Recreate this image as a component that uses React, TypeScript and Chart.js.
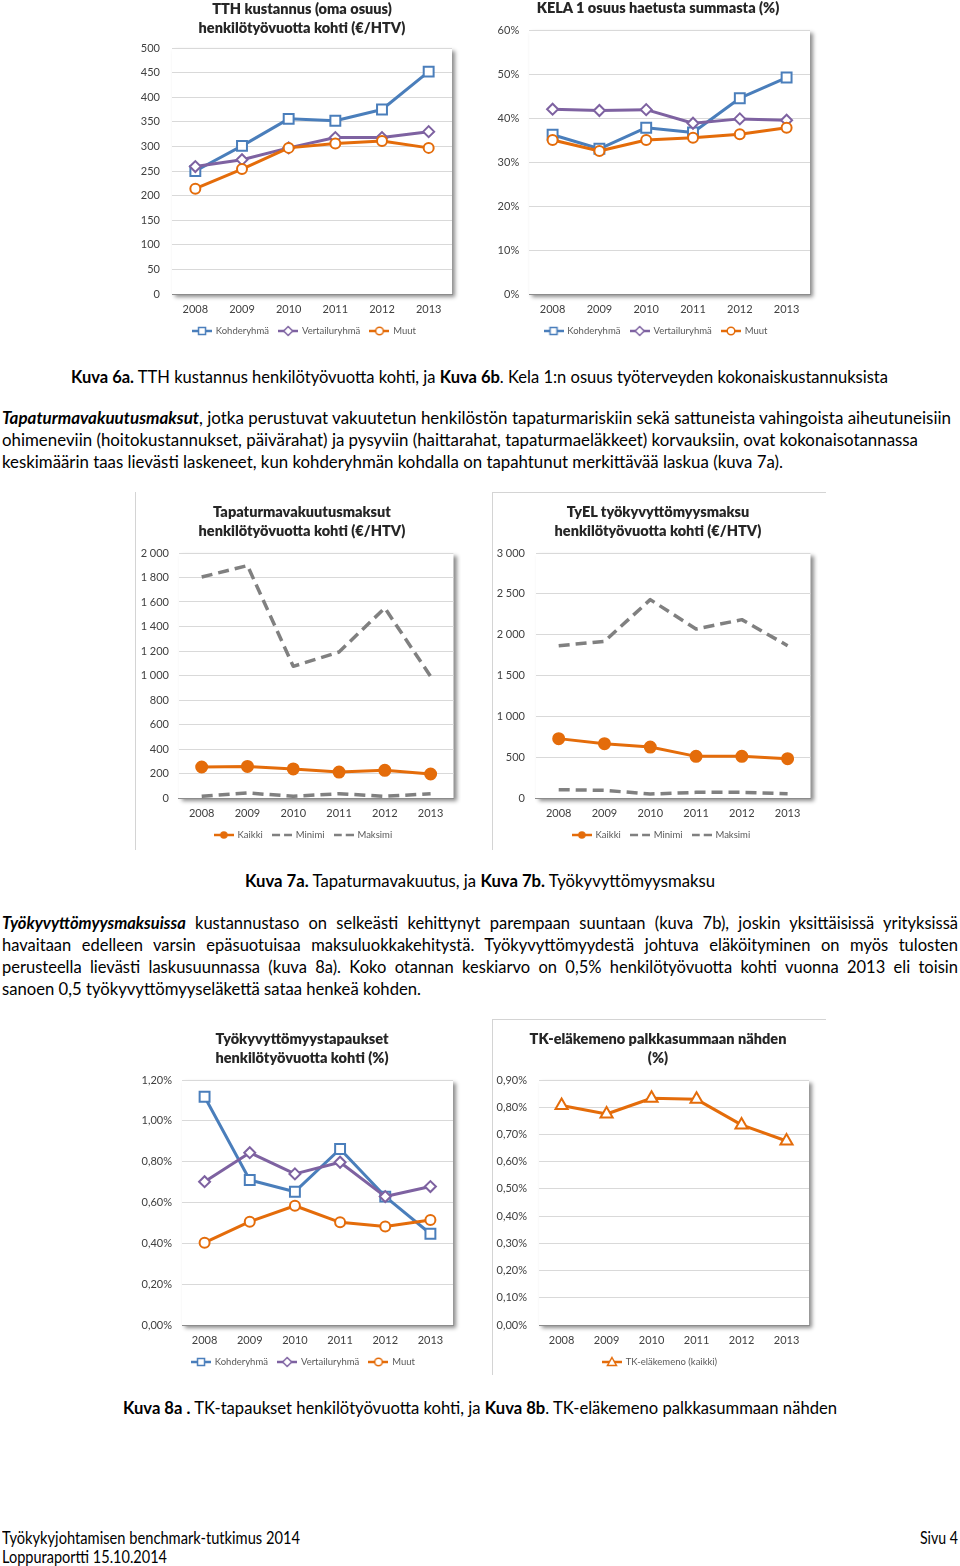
import React, { useEffect, useLayoutEffect, useRef } from "react";
import { Chart, registerables } from "chart.js";

Chart.register(...registerables);

// ---------- DATA ----------
const YEARS = ["2008", "2009", "2010", "2011", "2012", "2013"];

// Kuva 6a: TTH kustannus (€/HTV)
const TTH_KOHDE = [250, 301, 356, 352, 375, 452];
const TTH_VERTAILU = [259, 273, 297, 318, 318, 330];
const TTH_MUUT = [214, 254, 297, 306, 311, 297];

// Kuva 6b: KELA 1 osuus (%)
const KELA_KOHDE = [36.2, 33.0, 37.8, 36.7, 44.5, 49.2];
const KELA_VERTAILU = [42.0, 41.7, 41.9, 38.8, 39.8, 39.5];
const KELA_MUUT = [35.0, 32.5, 35.0, 35.5, 36.3, 37.8];

// Kuva 7a: Tapaturmavakuutusmaksut (€/HTV)
const TAPA_KAIKKI = [253, 258, 237, 212, 226, 196];
const TAPA_MINIMI = [14, 41, 14, 35, 14, 35];
const TAPA_MAKSIMI = [1804, 1897, 1075, 1192, 1551, 993];

// Kuva 7b: TyEL työkyvyttömyysmaksu (€/HTV)
const TYEL_KAIKKI = [727, 665, 624, 510, 510, 482];
const TYEL_MINIMI = [102, 94, 49, 69, 69, 53];
const TYEL_MAKSIMI = [1865, 1918, 2429, 2069, 2184, 1865];

// Kuva 8a: Työkyvyttömyystapaukset (%)
const TK_KOHDE = [1.118, 0.71, 0.653, 0.862, 0.629, 0.447];
const TK_VERTAILU = [0.702, 0.844, 0.74, 0.797, 0.629, 0.678];
const TK_MUUT = [0.403, 0.506, 0.584, 0.503, 0.482, 0.514];

// Kuva 8b: TK-eläkemeno (%)
const TKE_KAIKKI = [0.806, 0.775, 0.833, 0.829, 0.735, 0.676];

// ---------- STYLE ----------
const FONT = "Lato, 'Open Sans', sans-serif";
const TICK_COLOR = "#404040";
const TITLE_COLOR = "#262626";
const LEGEND_COLOR = "#595959";
const BLUE = "#4a7ebb";
const PURPLE = "#7e62a1";
const ORANGE = "#e46c0a";
const GRAY = "#808080";

const X_AXIS_H = 22;
const LEGEND_FONT = 9.5;
const LEGEND_PAD = 10.25;
const LEGEND_H = LEGEND_FONT + LEGEND_PAD + 10;
const TOP_PAD = 40;

type Marker = "rect" | "rectRot" | "circle" | "triangle" | false;
type Series = {
  label: string;
  data: number[];
  color: string;
  dash?: number[];
  marker: Marker;
  filled?: boolean;
  radius?: number;
  width?: number;
  order: number;
};
type Spec = {
  boxLeft: number;
  plotLeft: number;
  plotRight: number;
  plotTop: number;
  plotBottom: number;
  legendCx: number;
  yPad: number;
  titleCx: number;
  titleY: number;
  title: string[];
  min: number;
  max: number;
  step: number;
  fmt: (v: number) => string;
  series: Series[];
};

const fmtPlain = (v: number) => String(v);
const fmtPct0 = (v: number) => Math.round(v) + "%";
const fmtThousands = (v: number) =>
  v >= 1000 ? Math.floor(v / 1000) + " " + String(Math.round(v % 1000)).padStart(3, "0") : String(Math.round(v));
const fmtPct2 = (v: number) => v.toFixed(2).replace(".", ",") + "%";

const threeSeries = (k: number[], v: number[], m: number[]): Series[] => [
  { label: "Kohderyhmä", data: k, color: BLUE, marker: "rect", radius: 7, order: 3 },
  { label: "Vertailuryhmä", data: v, color: PURPLE, marker: "rectRot", radius: 5.5, order: 2 },
  { label: "Muut", data: m, color: ORANGE, marker: "circle", radius: 5, order: 1 },
];
const rangeSeries = (a: number[], mi: number[], ma: number[]): Series[] => [
  { label: "Kaikki", data: a, color: ORANGE, marker: "circle", filled: true, radius: 5.5, order: 1 },
  { label: "Minimi", data: mi, color: GRAY, marker: false, dash: [11, 6], width: 3.5, order: 2 },
  { label: "Maksimi", data: ma, color: GRAY, marker: false, dash: [11, 6], width: 3.5, order: 3 },
];

const SPECS: Spec[] = [
  {
    boxLeft: 130, plotLeft: 172, plotRight: 457, plotTop: 48, plotBottom: 294, legendCx: 304.5, yPad: 12,
    titleCx: 302, titleY: 8, title: ["TTH kustannus (oma osuus)", "henkilötyövuotta kohti (€/HTV)"],
    min: 0, max: 500, step: 50, fmt: fmtPlain,
    series: threeSeries(TTH_KOHDE, TTH_VERTAILU, TTH_MUUT),
  },
  {
    boxLeft: 490, plotLeft: 529.2, plotRight: 814.8, plotTop: 30, plotBottom: 294, legendCx: 656, yPad: 10,
    titleCx: 658, titleY: 7, title: ["KELA 1 osuus haetusta summasta (%)"],
    min: 0, max: 60, step: 10, fmt: fmtPct0,
    series: threeSeries(KELA_KOHDE, KELA_VERTAILU, KELA_MUUT),
  },
  {
    boxLeft: 137, plotLeft: 178.8, plotRight: 457.2, plotTop: 553, plotBottom: 798, legendCx: 303.5, yPad: 9.8,
    titleCx: 302, titleY: 511, title: ["Tapaturmavakuutusmaksut", "henkilötyövuotta kohti (€/HTV)"],
    min: 0, max: 2000, step: 200, fmt: fmtThousands,
    series: rangeSeries(TAPA_KAIKKI, TAPA_MINIMI, TAPA_MAKSIMI),
  },
  {
    boxLeft: 494, plotLeft: 535.8, plotRight: 814.2, plotTop: 553, plotBottom: 798, legendCx: 661.5, yPad: 10.8,
    titleCx: 658, titleY: 511, title: ["TyEL työkyvyttömyysmaksu", "henkilötyövuotta kohti (€/HTV)"],
    min: 0, max: 3000, step: 500, fmt: fmtThousands,
    series: rangeSeries(TYEL_KAIKKI, TYEL_MINIMI, TYEL_MAKSIMI),
  },
  {
    boxLeft: 137, plotLeft: 182, plotRight: 458, plotTop: 1080, plotBottom: 1325, legendCx: 303.5, yPad: 10,
    titleCx: 302, titleY: 1038, title: ["Työkyvyttömyystapaukset", "henkilötyövuotta kohti (%)"],
    min: 0, max: 1.2, step: 0.2, fmt: fmtPct2,
    series: threeSeries(TK_KOHDE, TK_VERTAILU, TK_MUUT),
  },
  {
    boxLeft: 494, plotLeft: 539.1, plotRight: 813.9, plotTop: 1080, plotBottom: 1325, legendCx: 660, yPad: 12.1,
    titleCx: 658, titleY: 1038, title: ["TK-eläkemeno palkkasummaan nähden", "(%)"],
    min: 0, max: 0.9, step: 0.1, fmt: fmtPct2,
    series: [
      { label: "TK-eläkemeno (kaikki)", data: TKE_KAIKKI, color: ORANGE, marker: "triangle", radius: 7, order: 1 },
    ],
  },
];

// ---------- HELPERS ----------
function legendImage(s: Series): HTMLCanvasElement {
  const c = document.createElement("canvas");
  c.width = 20;
  c.height = 12;
  const g = c.getContext("2d")!;
  const cy = 6;
  const cx = 10;
  g.strokeStyle = s.color;
  g.lineWidth = 2.5;
  g.setLineDash(s.dash ? [8, 4] : []);
  g.beginPath();
  g.moveTo(0, cy);
  g.lineTo(20, cy);
  g.stroke();
  g.setLineDash([]);
  if (s.marker) {
    g.lineWidth = 1.5;
    g.fillStyle = s.filled ? s.color : "#fff";
    g.beginPath();
    if (s.marker === "rect") g.rect(cx - 3.5, cy - 3.5, 7, 7);
    else if (s.marker === "rectRot") {
      g.moveTo(cx, cy - 4.5);
      g.lineTo(cx + 4.5, cy);
      g.lineTo(cx, cy + 4.5);
      g.lineTo(cx - 4.5, cy);
      g.closePath();
    } else if (s.marker === "circle") g.arc(cx, cy, s.filled ? 3 : 3.8, 0, Math.PI * 2);
    else if (s.marker === "triangle") {
      g.moveTo(cx, cy - 4.5);
      g.lineTo(cx + 4.5, cy + 3.5);
      g.lineTo(cx - 4.5, cy + 3.5);
      g.closePath();
    }
    g.fill();
    g.stroke();
  }
  return c;
}

const plotShadow = {
  id: "plotShadow",
  beforeDraw(chart: any) {
    const { ctx, chartArea: a } = chart;
    ctx.save();
    ctx.shadowColor = "rgba(0,0,0,0.45)";
    ctx.shadowBlur = 4;
    ctx.shadowOffsetX = 3;
    ctx.shadowOffsetY = 3;
    ctx.fillStyle = "#ffffff";
    ctx.fillRect(a.left, a.top, a.right - a.left, a.bottom - a.top);
    ctx.restore();
  },
};

function geometry(spec: Spec) {
  const top = spec.plotTop - TOP_PAD;
  const width = Math.round(spec.plotRight + 4 - spec.boxLeft);
  const padR = width - (spec.plotRight - spec.boxLeft);
  const padL = 2 * spec.legendCx - spec.plotRight - spec.boxLeft;
  const yWidth = spec.plotLeft - spec.boxLeft - padL;
  const height = Math.round(TOP_PAD + (spec.plotBottom - spec.plotTop) + X_AXIS_H + LEGEND_H);
  const padB = height - LEGEND_H - X_AXIS_H - (spec.plotBottom - top);
  return { top, width, height, padL, padR, padB, yWidth };
}

function LineChart({ spec }: { spec: Spec }) {
  const ref = useRef<HTMLCanvasElement>(null);
  const g = geometry(spec);
  useEffect(() => {
    const datasets = spec.series.map((s) => ({
      label: s.label,
      data: s.data,
      borderColor: s.color,
      backgroundColor: s.filled ? s.color : "#ffffff",
      borderWidth: s.width ?? 3,
      borderDash: s.dash ?? [],
      borderJoinStyle: "round" as const,
      pointStyle: (s.marker || "circle") as any,
      pointRadius: s.marker ? s.radius ?? 5 : 0,
      pointBorderWidth: 2,
      pointBackgroundColor: s.filled ? s.color : "#ffffff",
      pointBorderColor: s.color,
      tension: 0,
      order: s.order,
    }));
    const chart = new Chart(ref.current!, {
      type: "line",
      data: { labels: YEARS, datasets },
      plugins: [plotShadow],
      options: {
        animation: false,
        responsive: false,
        maintainAspectRatio: false,
        devicePixelRatio: 1,
        events: [],
        layout: { padding: { left: g.padL, right: g.padR, top: TOP_PAD, bottom: g.padB } },
        plugins: {
          tooltip: { enabled: false },
          title: { display: false },
          legend: {
            display: true,
            position: "bottom",
            labels: {
              usePointStyle: true,
              pointStyleWidth: 18,
              padding: LEGEND_PAD,
              color: LEGEND_COLOR,
              font: { family: FONT, size: LEGEND_FONT },
              generateLabels: () =>
                spec.series.map((s, i) => ({
                  text: s.label,
                  pointStyle: legendImage(s),
                  fillStyle: s.color,
                  strokeStyle: s.color,
                  lineWidth: 0,
                  hidden: false,
                  datasetIndex: i,
                  fontColor: LEGEND_COLOR,
                })) as any,
            },
          },
        },
        scales: {
          x: {
            type: "category",
            offset: true,
            grid: { display: false, drawTicks: false },
            border: { display: true, color: "#8c8c8c", width: 1 },
            ticks: {
              padding: 8.4,
              color: TICK_COLOR,
              font: { family: FONT, size: 11 },
              maxRotation: 0,
              autoSkip: false,
            },
            afterFit: (s: any) => {
              s.height = X_AXIS_H;
            },
          },
          y: {
            type: "linear",
            min: spec.min,
            max: spec.max,
            grid: { color: "#d9d9d9", lineWidth: 1, drawTicks: false },
            border: { display: false },
            ticks: {
              stepSize: spec.step,
              padding: spec.yPad,
              color: TICK_COLOR,
              font: { family: FONT, size: 11 },
              callback: (v: any) => spec.fmt(Number(v)),
            },
            afterFit: (s: any) => {
              s.width = g.yWidth;
              // labels sit left of the narrow axis box; do not clip them to it
              s._computeLabelArea = () => undefined;
            },
          },
        },
      } as any,
    });
    return () => chart.destroy();
  }, [spec]);
  return (
    <>
      <canvas
        ref={ref}
        width={g.width}
        height={g.height}
        style={{ position: "absolute", left: spec.boxLeft, top: g.top, width: g.width, height: g.height }}
      />
      <div
        style={{
          position: "absolute",
          left: spec.titleCx - 200,
          width: 400,
          top: spec.titleY - 9.5,
          lineHeight: "19px",
          textAlign: "center",
          fontFamily: FONT,
          fontWeight: 800,
          fontSize: 14.5,
          color: TITLE_COLOR,
          whiteSpace: "nowrap",
        }}
      >
        {spec.title.map((t, i) => (
          <div key={i}>{t}</div>
        ))}
      </div>
    </>
  );
}

const TEXT_SIZE = 16.5;

function FitLine({
  x,
  y,
  w,
  justify = false,
  children,
}: {
  x: number;
  y: number;
  w: number;
  justify?: boolean;
  children: React.ReactNode;
}) {
  const ref = useRef<HTMLSpanElement>(null);
  useLayoutEffect(() => {
    const el = ref.current;
    if (!el) return;
    el.style.transform = "none";
    el.style.wordSpacing = "0px";
    const nat = el.getBoundingClientRect().width;
    if (nat <= 0) return;
    if (justify && nat < w) {
      const spaces = (el.textContent || "").split(" ").length - 1;
      if (spaces > 0) {
        el.style.wordSpacing = (w - nat) / spaces + "px";
        return;
      }
    }
    el.style.transform = `scaleX(${w / nat})`;
  }, [w, justify]);
  return (
    <span
      ref={ref}
      style={{
        position: "absolute",
        left: x,
        top: y - 11.5,
        lineHeight: "22px",
        whiteSpace: "pre",
        fontFamily: FONT,
        fontSize: TEXT_SIZE,
        color: "#000",
        transformOrigin: "left center",
      }}
    >
      {children}
    </span>
  );
}

const frame = (left: number, top: number, width: number, height: number) => (
  <div style={{ position: "absolute", left, top, width, height, background: "#d4d4d4" }} />
);

export default function App() {
  return (
    <div
      style={{
        position: "absolute",
        left: 0,
        top: 0,
        width: 960,
        height: 1566,
        background: "#fff",
        overflow: "hidden",
      }}
    >
      <LineChart spec={SPECS[0]} />
      <LineChart spec={SPECS[1]} />

      <FitLine x={71} y={377} w={817}>
        <b>Kuva 6a.</b> TTH kustannus henkilötyövuotta kohti, ja <b>Kuva 6b</b>. Kela 1:n osuus työterveyden kokonaiskustannuksista
      </FitLine>

      <FitLine x={2} y={418} w={949}>
        <b><i>Tapaturmavakuutusmaksut</i></b>, jotka perustuvat vakuutetun henkilöstön tapaturmariskiin sekä sattuneista vahingoista aiheutuneisiin
      </FitLine>
      <FitLine x={2} y={440} w={916}>
        ohimeneviin (hoitokustannukset, päivärahat) ja pysyviin (haittarahat, tapaturmaeläkkeet) korvauksiin, ovat kokonaisotannassa
      </FitLine>
      <FitLine x={2} y={462} w={781}>
        keskimäärin taas lievästi laskeneet, kun kohderyhmän kohdalla on tapahtunut merkittävää laskua (kuva 7a).
      </FitLine>

      {frame(135, 492, 1, 358)}
      {frame(492, 492, 334, 1)}
      {frame(492, 492, 1, 358)}
      <LineChart spec={SPECS[2]} />
      <LineChart spec={SPECS[3]} />

      <FitLine x={245} y={881} w={470}>
        <b>Kuva 7a.</b> Tapaturmavakuutus, ja <b>Kuva 7b.</b> Työkyvyttömyysmaksu
      </FitLine>

      <FitLine x={2} y={923} w={956} justify>
        <b><i>Työkyvyttömyysmaksuissa</i></b> kustannustaso on selkeästi kehittynyt parempaan suuntaan (kuva 7b), joskin yksittäisissä yrityksissä
      </FitLine>
      <FitLine x={2} y={945} w={956} justify>
        havaitaan edelleen varsin epäsuotuisaa maksuluokkakehitystä. Työkyvyttömyydestä johtuva eläköityminen on myös tulosten
      </FitLine>
      <FitLine x={2} y={967} w={956} justify>
        perusteella lievästi laskusuunnassa (kuva 8a). Koko otannan keskiarvo on 0,5% henkilötyövuotta kohti vuonna 2013 eli toisin
      </FitLine>
      <FitLine x={2} y={989} w={419}>
        sanoen 0,5 työkyvyttömyyseläkettä sataa henkeä kohden.
      </FitLine>

      {frame(492, 1019, 334, 1)}
      {frame(492, 1019, 1, 356)}
      <LineChart spec={SPECS[4]} />
      <LineChart spec={SPECS[5]} />

      <FitLine x={123} y={1408} w={714}>
        <b>Kuva 8a .</b> TK-tapaukset henkilötyövuotta kohti, ja <b>Kuva 8b</b>. TK-eläkemeno palkkasummaan nähden
      </FitLine>

      <FitLine x={2} y={1538} w={298}>
        Työkykyjohtamisen benchmark-tutkimus 2014
      </FitLine>
      <FitLine x={920} y={1538} w={38}>
        Sivu 4
      </FitLine>
      <FitLine x={2} y={1557} w={165}>
        Loppuraportti 15.10.2014
      </FitLine>
    </div>
  );
}
